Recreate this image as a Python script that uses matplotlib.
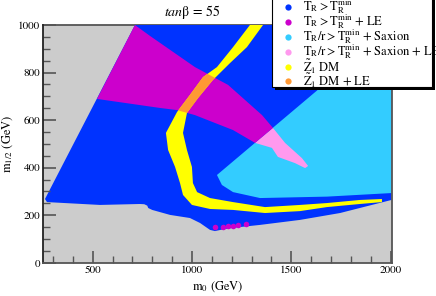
import matplotlib
matplotlib.use('Agg')
import matplotlib.pyplot as plt
from matplotlib.patches import Polygon, Rectangle
from matplotlib.lines import Line2D
from matplotlib.ticker import MultipleLocator

plt.rcParams['font.family'] = 'STIXGeneral'
plt.rcParams['mathtext.fontset'] = 'stix'

# =============================================================================
# region outlines (m0, m1/2 in GeV)
# =============================================================================
# T_R > T_R^min (allowed region)
blue_m0  = [713, 2005, 2005, 1746, 1544, 1343, 1242, 1167, 1116, 1091, 1041, 990, 890, 800, 780, 775, 760, 738, 537, 270, 260]
blue_m12 = [1000, 1000, 264, 209, 180, 159, 150, 142, 133, 138, 167, 188, 201, 222, 230, 240, 246, 247, 243, 255, 268]

# T_R/r > T_R^min + Saxion
sax_m0  = [1126, 1645, 2005, 2005, 1680, 1343, 1207, 1151]
sax_m12 = [369, 735, 1000, 293, 278, 272, 297, 327]

# T_R/r > T_R^min + Saxion + LE
saxle_m0  = [1318, 1408, 1469, 1554, 1585, 1570, 1519, 1433, 1403]
saxle_m12 = [504, 567, 504, 440, 407, 398, 419, 445, 483]

# T_R > T_R^min + LE
le_m0  = [713, 789, 1015, 1182, 1353, 1408, 1318, 1207, 1015, 925, 839, 522]
le_m12 = [1000, 954, 823, 748, 621, 567, 504, 558, 621, 642, 651, 689]

# Z1 DM band
dm_m0  = [1292, 1207, 1126, 1056, 990, 925, 869, 880, 915, 940, 955, 1000, 1091, 1207, 1368, 1544, 1680, 1846, 1957,
          1957, 1846, 1680, 1544, 1368, 1207, 1091, 1026, 1005, 1000, 975, 955, 975, 1031, 1106, 1192, 1277, 1358]
dm_m12 = [1000, 907, 823, 781, 706, 634, 546, 474, 403, 335, 285, 243, 226, 222, 209, 217, 234, 247, 255,
          268, 264, 251, 243, 234, 255, 272, 297, 335, 403, 474, 546, 630, 693, 769, 840, 907, 1000]

# isolated LE points near the lower edge
dot_m0  = [1116, 1156, 1182, 1207, 1232, 1272]
dot_m12 = [150, 150, 154, 154, 159, 163]

labels = [r'$\mathrm{T_R > T_R^{min}}$',
          r'$\mathrm{T_R > T_R^{min}}$ + LE',
          r'$\mathrm{T_R/r > T_R^{min}}$ + Saxion',
          r'$\mathrm{T_R/r > T_R^{min}}$ + Saxion + LE',
          r'$\tilde{\mathrm{Z}}_1$ DM',
          r'$\tilde{\mathrm{Z}}_1$ DM + LE']

c_gray   = '#cccccc'
c_blue   = '#0033ff'
c_mag    = '#cc00cc'
c_lblue  = '#33ccff'
c_pink   = '#ff99ee'
c_yellow = '#ffff00'
c_orange = '#ff9933'
colors = [c_blue, c_mag, c_lblue, c_pink, c_yellow, c_orange]

W, H = 436, 296
fig = plt.figure(figsize=(W / 100, H / 100), dpi=100)
ax = fig.add_axes([43 / W, 1 - 262.7 / H, (391.5 - 43) / W, (262.7 - 25) / H])
ax.set_facecolor(c_gray)

def poly(xs, ys, col, z):
    p = Polygon(list(zip(xs, ys)), closed=True, facecolor=col, edgecolor='none', zorder=z)
    ax.add_patch(p)
    return p

poly(blue_m0, blue_m12, c_blue, 1)
poly(sax_m0, sax_m12, c_lblue, 1.1)
poly(saxle_m0, saxle_m12, c_pink, 1.2)
le_patch = poly(le_m0, le_m12, c_mag, 1.3)
poly(dm_m0, dm_m12, c_yellow, 1.4)
orange = poly(dm_m0, dm_m12, c_orange, 1.5)
orange.set_clip_path(le_patch)
ax.plot(dot_m0, dot_m12, 'o', color=c_mag, ms=4, mec='none', zorder=1.6)

ax.set_xlim(250, 2005)
ax.set_ylim(0, 1000)
ax.xaxis.set_major_locator(MultipleLocator(500))
ax.xaxis.set_minor_locator(MultipleLocator(100))
ax.yaxis.set_major_locator(MultipleLocator(200))
ax.yaxis.set_minor_locator(MultipleLocator(50))
ax.tick_params(which='major', direction='in', length=9, width=1.2, color='#555555', labelsize=8, pad=2)
ax.tick_params(which='minor', direction='in', length=5, width=1.0, color='#555555')
ax.tick_params(top=False, right=False, which='both')
for s in ax.spines.values():
    s.set_color('#555555')
    s.set_linewidth(1.3)
ax.spines['left'].set_color('#222222')
ax.spines['top'].set_zorder(0.5)

ax.set_xlabel(r'm$_0$ (GeV)', fontsize=9, labelpad=3)
ax.set_ylabel(r'm$_{1/2}$ (GeV)', fontsize=9, labelpad=2)
fig.text(192 / W, 1 - 12 / H, r'$\mathit{tan}$β = 55', fontsize=10, ha='center', va='center')

# legend box drawn by hand so the text can run past the frame like the original
def fx(px):
    return px / W
def fy(py):
    return 1 - py / H

fig.add_artist(Rectangle((fx(275), fy(90)), (432 - 272) / W, 100 / H, transform=fig.transFigure,
                         facecolor='black', edgecolor='none', zorder=5))
fig.add_artist(Rectangle((fx(272), fy(87)), (432 - 272) / W, 100 / H, transform=fig.transFigure,
                         facecolor='white', edgecolor='black', lw=0.8, zorder=6))
row_y = [7, 22, 37, 52, 67, 81]
for lab, col, yy in zip(labels, colors, row_y):
    fig.add_artist(Line2D([fx(288)], [fy(yy)], marker='o', ms=4.5, color=col, mec='none',
                          transform=fig.transFigure, zorder=7))
    fig.text(fx(303), fy(yy), lab, fontsize=9, ha='left', va='center', zorder=7)

fig.savefig('out.png', dpi=100)
